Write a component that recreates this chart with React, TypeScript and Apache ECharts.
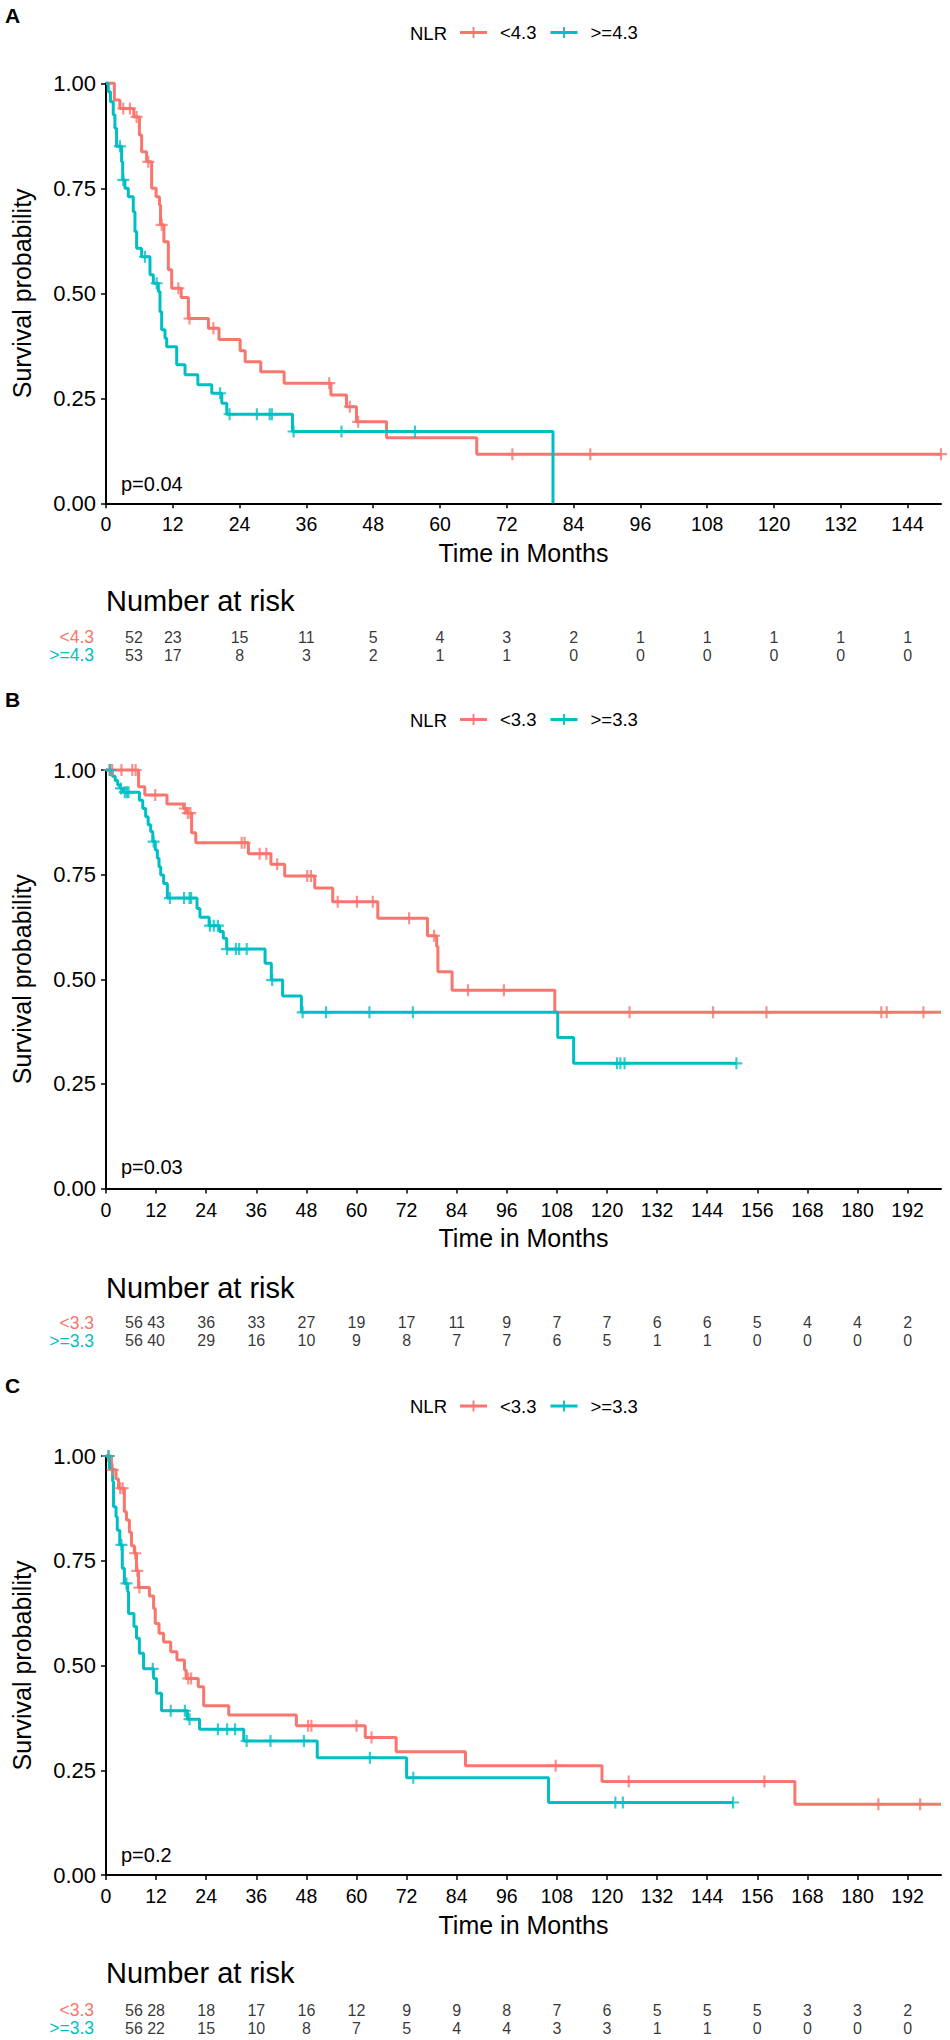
import React, { useEffect, useRef } from 'react';
import * as echarts from 'echarts';

const FONT = '"Liberation Sans", Arial, Helvetica, sans-serif';
const RED = '#F8766D';
const CYAN = '#00BFC4';

// ---------- Panel A ----------
const aGroups = ['<4.3', '>=4.3'];
const aTicks = [0, 12, 24, 36, 48, 60, 72, 84, 96, 108, 120, 132, 144];
const aMax = 150;
const aLowTimes = [1.5, 2.5, 5.0, 6.0, 6.4, 7.3, 8.2, 9.0, 9.6, 9.8, 10.4, 11.2, 11.8, 13.5, 14.8, 18.4, 20.3, 24.1, 25.0, 27.8, 32.0, 40.4, 43.2, 45.0, 50.4, 66.6];
const aLowSurv = [0.96, 0.94, 0.92, 0.877, 0.837, 0.813, 0.75, 0.73, 0.71, 0.663, 0.623, 0.556, 0.512, 0.49, 0.44, 0.417, 0.39, 0.363, 0.337, 0.313, 0.286, 0.258, 0.23, 0.194, 0.156, 0.117];
const aLowCensor = [3.1, 4.3, 5.5, 7.6, 10.0, 13.0, 15.0, 19.3, 40.1, 43.8, 45.3, 73, 87, 150];
const aLowEnd = 150;
const aHighTimes = [0.4, 0.8, 1.3, 1.6, 1.9, 2.8, 3.0, 3.4, 4.0, 4.9, 5.2, 5.5, 6.4, 7.9, 8.5, 9.4, 9.7, 10.0, 10.6, 10.9, 12.7, 14.2, 16.5, 19.0, 20.8, 21.7, 33.5, 80.3];
const aHighSurv = [0.98, 0.956, 0.925, 0.893, 0.85, 0.813, 0.77, 0.75, 0.73, 0.694, 0.647, 0.607, 0.587, 0.544, 0.524, 0.504, 0.456, 0.413, 0.393, 0.373, 0.33, 0.306, 0.282, 0.262, 0.238, 0.212, 0.171, 0];
const aHighCensor = [2.5, 3.1, 7.0, 9.1, 20.5, 22.2, 27.1, 29.4, 29.8, 33.7, 42.3, 55.5];
const aHighEnd: number | null = null;
const aRiskLow = [52, 23, 15, 11, 5, 4, 3, 2, 1, 1, 1, 1, 1];
const aRiskHigh = [53, 17, 8, 3, 2, 1, 1, 0, 0, 0, 0, 0, 0];
const aPValue = 'p=0.04';

// ---------- Panel B ----------
const bGroups = ['<3.3', '>=3.3'];
const bTicks = [0, 12, 24, 36, 48, 60, 72, 84, 96, 108, 120, 132, 144, 156, 168, 180, 192];
const bMax = 200;
const bLowTimes = [7.8, 9.3, 14.6, 18.6, 19.4, 20.5, 21.5, 34.1, 39.5, 42.8, 50.0, 54.3, 65.1, 77.0, 79.2, 79.5, 82.9, 107.5];
const bLowSurv = [0.96, 0.94, 0.919, 0.908, 0.897, 0.85, 0.826, 0.80, 0.775, 0.747, 0.718, 0.685, 0.646, 0.604, 0.578, 0.518, 0.474, 0.421];
const bLowCensor = [0.8, 1.5, 3.7, 6.3, 7.1, 11.8, 18.9, 19.6, 20.2, 32.5, 33.2, 36.8, 38.4, 41.0, 48.2, 49.1, 55.5, 60.1, 63.9, 72.6, 78.6, 86.7, 95.3, 125.4, 145.4, 158.2, 185.7, 187.0, 195.8];
const bLowEnd = 200;
const bHighTimes = [1.5, 2.2, 2.8, 3.4, 4.2, 8.0, 8.8, 9.5, 10.1, 10.7, 11.2, 11.8, 12.3, 12.7, 13.1, 13.8, 14.7, 21.8, 22.5, 24.7, 27.2, 28.1, 28.9, 38.1, 39.6, 42.3, 46.8, 108.2, 112.0];
const bHighSurv = [0.985, 0.975, 0.964, 0.956, 0.947, 0.928, 0.908, 0.888, 0.869, 0.853, 0.829, 0.809, 0.789, 0.769, 0.749, 0.729, 0.694, 0.669, 0.648, 0.628, 0.614, 0.598, 0.572, 0.538, 0.498, 0.46, 0.421, 0.361, 0.299];
const bHighCensor = [1.0, 3.6, 4.5, 5.0, 5.4, 11.4, 15.3, 18.7, 20.0, 20.4, 24.9, 25.8, 26.8, 29.0, 31.1, 31.9, 33.7, 39.8, 47.1, 52.7, 63.1, 73.5, 122.4, 123.2, 124.2, 151];
const bHighEnd = 151;
const bRiskLow = [56, 43, 36, 33, 27, 19, 17, 11, 9, 7, 7, 6, 6, 5, 4, 4, 2];
const bRiskHigh = [56, 40, 29, 16, 10, 9, 8, 7, 7, 6, 5, 1, 1, 0, 0, 0, 0];
const bPValue = 'p=0.03';

// ---------- Panel C ----------
const cGroups = ['<3.3', '>=3.3'];
const cTicks = [0, 12, 24, 36, 48, 60, 72, 84, 96, 108, 120, 132, 144, 156, 168, 180, 192];
const cMax = 200;
const cLowTimes = [1.3, 2.4, 3.0, 4.4, 4.9, 5.6, 6.1, 6.8, 7.3, 7.8, 10.4, 11.4, 11.8, 12.7, 13.8, 15.5, 17.0, 18.8, 19.2, 22.1, 23.4, 29.4, 45.6, 62.1, 69.5, 86.1, 118.8, 165.0];
const cLowSurv = [0.967, 0.945, 0.923, 0.867, 0.847, 0.818, 0.786, 0.768, 0.726, 0.686, 0.666, 0.636, 0.6, 0.577, 0.556, 0.533, 0.513, 0.489, 0.469, 0.449, 0.404, 0.382, 0.356, 0.328, 0.294, 0.261, 0.223, 0.169];
const cLowCensor = [0.6, 1.6, 3.4, 4.0, 7.0, 7.5, 8.0, 19.7, 20.4, 48.4, 49.2, 60.0, 63.6, 107.7, 125.2, 157.7, 185.0, 195.0];
const cLowEnd = 200;
const cHighTimes = [0.8, 1.6, 1.8, 2.4, 2.7, 3.3, 3.9, 4.4, 5.2, 5.4, 6.7, 7.3, 8.0, 9.0, 11.4, 12.1, 13.3, 19.5, 22.4, 33.0, 50.6, 72.0, 106.0];
const cHighSurv = [0.97, 0.939, 0.879, 0.855, 0.823, 0.788, 0.732, 0.696, 0.676, 0.624, 0.593, 0.565, 0.529, 0.492, 0.469, 0.434, 0.392, 0.372, 0.348, 0.32, 0.28, 0.232, 0.173];
const cHighCensor = [0.6, 3.7, 4.9, 11.2, 15.5, 18.9, 20.0, 26.8, 29.0, 30.9, 33.7, 39.4, 47.4, 63.2, 73.6, 122.0, 123.8, 150.2];
const cHighEnd = 150.2;
const cRiskLow = [56, 28, 18, 17, 16, 12, 9, 9, 8, 7, 6, 5, 5, 5, 3, 3, 2];
const cRiskHigh = [56, 22, 15, 10, 8, 7, 5, 4, 4, 3, 3, 1, 1, 0, 0, 0, 0];
const cPValue = 'p=0.2';

const LEGEND_TITLE = 'NLR';
const Y_NAME = 'Survival probability';
const X_NAME = 'Time in Months';
const RISK_TITLE = 'Number at risk';

const PLUS = 'path://M4.1,0 L5.9,0 L5.9,4.1 L10,4.1 L10,5.9 L5.9,5.9 L5.9,10 L4.1,10 L4.1,5.9 L0,5.9 L0,4.1 L4.1,4.1 Z';
const LEGEND_ICON = 'path://M0,4 L27,4 L27,7 L0,7 Z M12.6,0 L14.4,0 L14.4,11 L12.6,11 Z';

function survAt(times: number[], surv: number[], t: number) {
  let s = 1;
  for (let i = 0; i < times.length; i++) if (times[i] <= t) s = surv[i];
  return s;
}

function stepData(times: number[], surv: number[], end: number | null) {
  const d: number[][] = [[0, 1]];
  times.forEach((t, i) => d.push([t, surv[i]]));
  if (end != null) d.push([end, surv[surv.length - 1]]);
  return d;
}

type PanelData = {
  letter: string;
  groups: string[];
  ticks: number[];
  max: number;
  lowTimes: number[]; lowSurv: number[]; lowCensor: number[]; lowEnd: number | null;
  highTimes: number[]; highSurv: number[]; highCensor: number[]; highEnd: number | null;
  riskLow: number[]; riskHigh: number[];
  p: string;
};

type Layout = { plotTop: number; plotH: number; riskTop: number; legendY: number; letterY: number; riskTitleY: number; pY: number };

const panels: PanelData[] = [
  { letter: 'A', groups: aGroups, ticks: aTicks, max: aMax, lowTimes: aLowTimes, lowSurv: aLowSurv, lowCensor: aLowCensor, lowEnd: aLowEnd, highTimes: aHighTimes, highSurv: aHighSurv, highCensor: aHighCensor, highEnd: aHighEnd, riskLow: aRiskLow, riskHigh: aRiskHigh, p: aPValue },
  { letter: 'B', groups: bGroups, ticks: bTicks, max: bMax, lowTimes: bLowTimes, lowSurv: bLowSurv, lowCensor: bLowCensor, lowEnd: bLowEnd, highTimes: bHighTimes, highSurv: bHighSurv, highCensor: bHighCensor, highEnd: bHighEnd, riskLow: bRiskLow, riskHigh: bRiskHigh, p: bPValue },
  { letter: 'C', groups: cGroups, ticks: cTicks, max: cMax, lowTimes: cLowTimes, lowSurv: cLowSurv, lowCensor: cLowCensor, lowEnd: cLowEnd, highTimes: cHighTimes, highSurv: cHighSurv, highCensor: cHighCensor, highEnd: cHighEnd, riskLow: cRiskLow, riskHigh: cRiskHigh, p: cPValue },
];

const layouts: Layout[] = [
  { plotTop: 83.3, plotH: 420, riskTop: 628, legendY: 33, letterY: 15, riskTitleY: 601, pY: 484 },
  { plotTop: 770, plotH: 418.5, riskTop: 1313.5, legendY: 720, letterY: 699, riskTitleY: 1287.5, pY: 1167 },
  { plotTop: 1456, plotH: 419, riskTop: 2001, legendY: 1406.5, letterY: 1385, riskTitleY: 1973, pY: 1855 },
];

const PLOT_LEFT = 106;
const PLOT_W = 835;
const RISK_H = 36;

function buildOption() {
  const grid: any[] = [];
  const xAxis: any[] = [];
  const yAxis: any[] = [];
  const series: any[] = [];
  const legend: any[] = [];
  const graphic: any[] = [];

  panels.forEach((pd, k) => {
    const L = layouts[k];
    const gPlot = grid.length;
    grid.push({ left: PLOT_LEFT, top: L.plotTop, width: PLOT_W, height: L.plotH });
    const gRisk = grid.length;
    grid.push({ left: PLOT_LEFT, top: L.riskTop, width: PLOT_W, height: RISK_H });

    xAxis.push({
      type: 'value', gridIndex: gPlot, min: 0, max: pd.max,
      splitLine: { show: false },
      axisLine: { show: true, onZero: false, lineStyle: { color: '#000', width: 2 } },
      axisTick: { show: true, length: 5, customValues: pd.ticks, lineStyle: { color: '#000', width: 1.5 } },
      axisLabel: { customValues: pd.ticks, color: '#000', fontSize: 19.5, fontFamily: FONT, margin: 11 },
      name: X_NAME, nameLocation: 'middle', nameGap: 37,
      nameTextStyle: { color: '#000', fontSize: 25, fontFamily: FONT },
    });
    yAxis.push({
      type: 'value', gridIndex: gPlot, min: 0, max: 1, interval: 0.25,
      splitLine: { show: false },
      axisLine: { show: true, lineStyle: { color: '#000', width: 2 } },
      axisTick: { show: true, length: 5, lineStyle: { color: '#000', width: 1.5 } },
      axisLabel: { color: '#000', fontSize: 22, fontFamily: FONT, margin: 10, formatter: (v: number) => v.toFixed(2) },
      name: Y_NAME, nameLocation: 'middle', nameGap: 72,
      nameTextStyle: { color: '#000', fontSize: 25, fontFamily: FONT },
    });
    xAxis.push({ type: 'value', gridIndex: gRisk, min: 0, max: pd.max, show: false });
    yAxis.push({
      type: 'category', gridIndex: gRisk, data: pd.groups, inverse: true,
      axisLine: { show: false }, axisTick: { show: false }, splitLine: { show: false },
      axisLabel: {
        margin: 12, interval: 0, hideOverlap: false,
        formatter: (v: string, i: number) => (i === 0 ? '{r|' + v + '}' : '{c|' + v + '}'),
        rich: {
          r: { color: RED, fontSize: 17.5, fontFamily: FONT },
          c: { color: CYAN, fontSize: 17.5, fontFamily: FONT },
        },
      },
    });

    const colors = [RED, CYAN];
    const curves = [
      { times: pd.lowTimes, surv: pd.lowSurv, cens: pd.lowCensor, end: pd.lowEnd },
      { times: pd.highTimes, surv: pd.highSurv, cens: pd.highCensor, end: pd.highEnd },
    ];
    curves.forEach((c, gi) => {
      series.push({
        type: 'line', name: pd.groups[gi], xAxisIndex: gPlot, yAxisIndex: gPlot,
        step: 'end', symbol: 'none', showSymbol: false, clip: false, z: 2,
        lineStyle: { color: colors[gi], width: 3 }, itemStyle: { color: colors[gi] },
        data: stepData(c.times, c.surv, c.end),
        silent: true,
      });
      series.push({
        type: 'scatter', name: pd.groups[gi], xAxisIndex: gPlot, yAxisIndex: gPlot,
        symbol: PLUS, symbolSize: 12, z: 3, clip: false,
        itemStyle: { color: colors[gi] },
        data: c.cens.map((t) => [t, survAt(c.times, c.surv, t)]),
        silent: true,
      });
    });

    const risks = [pd.riskLow, pd.riskHigh];
    risks.forEach((arr, row) => {
      series.push({
        type: 'scatter', name: 'risk' + pd.letter + row, xAxisIndex: gRisk, yAxisIndex: gRisk,
        symbolSize: 1, itemStyle: { color: 'rgba(0,0,0,0)' }, silent: true,
        label: {
          show: true, position: 'inside', color: '#000', fontSize: 16, fontFamily: FONT,
          formatter: (p: any) => String(p.value[2]),
        },
        data: arr.map((n, i) => ({
          value: [pd.ticks[i], row, n],
          label: i === 0 ? { offset: [28, 0] } : undefined,
        })),
      });
    });

    legend.push({
      top: L.legendY - 10, left: 460, padding: 0, orient: 'horizontal',
      itemWidth: 27, itemHeight: 11, itemGap: 14, selectedMode: false,
      icon: LEGEND_ICON, data: pd.groups,
      textStyle: { color: '#000', fontSize: 18.5, fontFamily: FONT, padding: [0, 0, 0, 8] },
    });

    graphic.push(
      { type: 'text', x: 5, y: L.letterY, style: { text: pd.letter, fill: '#000', fontSize: 21, fontWeight: 'bold', fontFamily: FONT, verticalAlign: 'middle', textVerticalAlign: 'middle' } },
      { type: 'text', x: 410, y: L.legendY, style: { text: LEGEND_TITLE, fill: '#000', fontSize: 18.5, fontFamily: FONT, verticalAlign: 'middle', textVerticalAlign: 'middle' } },
      { type: 'text', x: 106, y: L.riskTitleY, style: { text: RISK_TITLE, fill: '#000', fontSize: 29, fontFamily: FONT, verticalAlign: 'middle', textVerticalAlign: 'middle' } },
      { type: 'text', x: 121, y: L.pY, style: { text: pd.p, fill: '#000', fontSize: 20, fontFamily: FONT, verticalAlign: 'middle', textVerticalAlign: 'middle' } },
    );
  });

  return { animation: false, backgroundColor: '#fff', grid, xAxis, yAxis, series, legend, graphic };
}

export default function App() {
  const ref = useRef<HTMLDivElement>(null);
  useEffect(() => {
    if (!ref.current) return;
    const chart = echarts.init(ref.current, undefined, { renderer: 'svg' });
    chart.setOption(buildOption() as any);
    return () => chart.dispose();
  }, []);
  return <div ref={ref} style={{ position: 'absolute', left: 0, top: 0, width: 950, height: 2040 }} />;
}
